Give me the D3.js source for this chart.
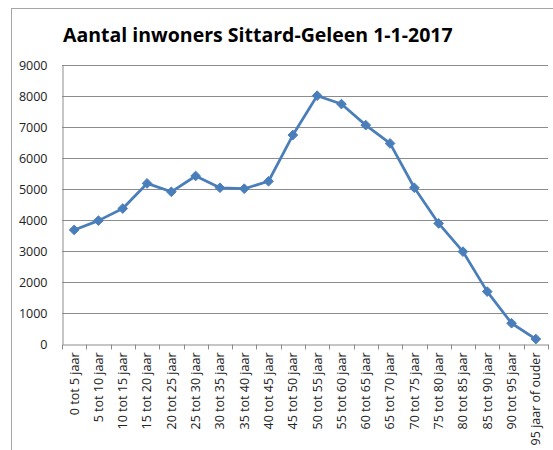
<!DOCTYPE html>
<html>
<head>
<meta charset="utf-8">
<script src="https://cdn.jsdelivr.net/npm/d3@7"></script>
<style>
  body { margin: 0; background: #fff; }
  svg { display: block; }
</style>
</head>
<body>
<div id="chart"></div>
<script>
const title = "Aantal inwoners Sittard-Geleen 1-1-2017";
const categories = ["0 tot 5 jaar", "5 tot 10 jaar", "10 tot 15 jaar", "15 tot 20 jaar", "20 tot 25 jaar",
  "25 tot 30 jaar", "30 tot 35 jaar", "35 tot 40 jaar", "40 tot 45 jaar", "45 tot 50 jaar",
  "50 tot 55 jaar", "55 tot 60 jaar", "60 tot 65 jaar", "65 tot 70 jaar", "70 tot 75 jaar",
  "75 tot 80 jaar", "80 tot 85 jaar", "85 tot 90 jaar", "90 tot 95 jaar", "95 jaar of ouder"];
const inwoners = [3680, 3980, 4370, 5180, 4910, 5420, 5040, 5010, 5250, 6740,
  8010, 7740, 7060, 6470, 5040, 3890, 2980, 1690, 670, 160];
const yTicks = [0, 1000, 2000, 3000, 4000, 5000, 6000, 7000, 8000, 9000];

const width = 553, height = 450;
const margin = {top: 65, right: 5, bottom: 106, left: 62};

const svg = d3.select("#chart").append("svg")
    .attr("width", width)
    .attr("height", height);

// chart frame
svg.append("rect")
    .attr("x", 11.5).attr("y", 8.5)
    .attr("width", width + 10).attr("height", height + 10)
    .attr("fill", "none")
    .attr("stroke", "#a6a6a6")
    .attr("stroke-width", 1);

svg.append("text")
    .attr("x", 63)
    .attr("y", 42)
    .attr("font-family", "Open Sans, sans-serif")
    .attr("font-weight", "bold")
    .attr("font-size", 19.5)
    .attr("fill", "#000")
    .text(title);

const x = d3.scaleBand()
    .domain(categories)
    .range([margin.left, width - margin.right]);

const y = d3.scaleLinear()
    .domain([0, 9000])
    .range([height - margin.bottom, margin.top]);

// gridlines
svg.append("g")
    .selectAll("line")
    .data(yTicks.filter(d => d > 0))
    .enter()
    .append("line")
    .attr("x1", margin.left)
    .attr("x2", width - margin.right)
    .attr("y1", d => Math.round(y(d)) + 0.5)
    .attr("y2", d => Math.round(y(d)) + 0.5)
    .attr("stroke", "#8c8c8c")
    .attr("stroke-width", 1);

// y axis
const yAxis = svg.append("g")
    .attr("transform", `translate(${margin.left + 0.5},0)`)
    .call(d3.axisLeft(y).tickValues(yTicks).tickFormat(d3.format("d")).tickSize(0).tickPadding(15));
yAxis.select(".domain").attr("stroke", "#8c8c8c");
yAxis.selectAll("text")
    .attr("font-family", "Open Sans, sans-serif")
    .attr("font-size", 12.5)
    .attr("fill", "#222");

// x axis
const xAxis = svg.append("g")
    .attr("transform", `translate(0,${Math.round(y(0)) + 0.5})`)
    .call(d3.axisBottom(x).tickSize(0).tickPadding(0));
xAxis.select(".domain").attr("stroke", "#8c8c8c");
xAxis.selectAll("text")
    .attr("font-family", "Open Sans, sans-serif")
    .attr("font-size", 12.5)
    .attr("fill", "#222")
    .attr("text-anchor", "end")
    .attr("dy", "0.35em")
    .attr("transform", "translate(0,8) rotate(-90)");

// tick marks at band boundaries
xAxis.append("g")
    .selectAll("line")
    .data(categories.concat([null]))
    .enter()
    .append("line")
    .attr("x1", (d, i) => Math.round(margin.left + i * x.step()) + 0.5)
    .attr("x2", (d, i) => Math.round(margin.left + i * x.step()) + 0.5)
    .attr("y1", 0)
    .attr("y2", 5)
    .attr("stroke", "#8c8c8c");

const line = d3.line()
    .x((d, i) => x(categories[i]) + x.bandwidth() / 2)
    .y(d => y(d));

svg.append("path")
    .datum(inwoners)
    .attr("d", line)
    .attr("fill", "none")
    .attr("stroke", "#4a7ebb")
    .attr("stroke-width", 2.75)
    .attr("stroke-linejoin", "round");

svg.append("g")
    .selectAll("path")
    .data(inwoners)
    .enter()
    .append("path")
    .attr("d", d3.symbol().type(d3.symbolDiamond2).size(60))
    .attr("transform", (d, i) => `translate(${x(categories[i]) + x.bandwidth() / 2},${y(d)})`)
    .attr("fill", "#4a7ebb")
    .attr("stroke", "#4a7ebb")
    .attr("stroke-width", 1);
</script>
</body>
</html>
